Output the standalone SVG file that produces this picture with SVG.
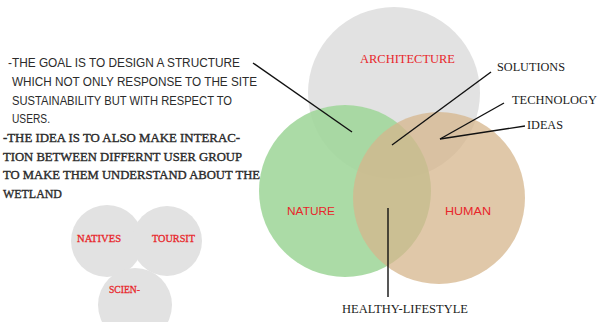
<svg xmlns="http://www.w3.org/2000/svg" width="598" height="322" viewBox="0 0 598 322">
  <style>
    .note { font-family: "Liberation Sans", Arial, sans-serif; font-size: 12px; fill: #2b2b2b; }
    .idea { font-family: "Liberation Serif", "Times New Roman", serif; font-size: 12px; fill: #2a2a2a; stroke: #2a2a2a; stroke-width: 0.35; }
    .red-serif { font-family: "Liberation Serif", "Times New Roman", serif; font-size: 12.5px; fill: #e8262b; }
    .red-sans { font-family: "Liberation Sans", Arial, sans-serif; font-size: 11.5px; fill: #e8262b; }
    .red-small { font-family: "Liberation Serif", "Times New Roman", serif; font-size: 10.5px; fill: #e8262b; stroke: #e8262b; stroke-width: 0.3; }
    .tag { font-family: "Liberation Serif", "Times New Roman", serif; font-size: 12px; fill: #1a1a1a; }
    .leader { stroke: #111; stroke-width: 1.4; fill: none; }
    .bubble { fill: #e2e2e2; }
  </style>

  <rect width="598" height="322" fill="#ffffff"/>

  <!-- design statement -->
  <g id="statement">
    <text class="note" x="8" y="67" textLength="232" lengthAdjust="spacingAndGlyphs">-THE GOAL IS TO DESIGN A STRUCTURE</text>
    <text class="note" x="12" y="86" textLength="245" lengthAdjust="spacingAndGlyphs">WHICH NOT ONLY RESPONSE TO THE SITE</text>
    <text class="note" x="12" y="105" textLength="220" lengthAdjust="spacingAndGlyphs">SUSTAINABILITY BUT WITH RESPECT TO</text>
    <text class="note" x="12" y="123" textLength="38" lengthAdjust="spacingAndGlyphs">USERS.</text>
  </g>
  <g id="idea">
    <text class="idea" x="3" y="142" textLength="237" lengthAdjust="spacingAndGlyphs">-THE IDEA IS TO ALSO MAKE INTERAC-</text>
    <text class="idea" x="3" y="161" textLength="239" lengthAdjust="spacingAndGlyphs">TION BETWEEN DIFFERNT USER GROUP</text>
    <text class="idea" x="3" y="179" textLength="257" lengthAdjust="spacingAndGlyphs">TO MAKE THEM UNDERSTAND ABOUT THE</text>
    <text class="idea" x="3" y="198" textLength="59" lengthAdjust="spacingAndGlyphs">WETLAND</text>
  </g>

  <!-- user groups -->
  <g id="natives">
    <circle class="bubble" cx="107" cy="241" r="36"/>
    <text class="red-small" x="77" y="242" textLength="44" lengthAdjust="spacingAndGlyphs">NATIVES</text>
  </g>
  <g id="tourist">
    <circle class="bubble" cx="167" cy="241" r="35"/>
    <text class="red-small" x="152" y="242" textLength="43" lengthAdjust="spacingAndGlyphs">TOURSIT</text>
  </g>
  <g id="scientists">
    <circle class="bubble" cx="135" cy="305" r="37"/>
    <text class="red-small" x="109" y="293" textLength="31" lengthAdjust="spacingAndGlyphs">SCIEN-</text>
  </g>

  <!-- main venn -->
  <g id="architecture">
    <circle cx="394" cy="93" r="86" fill="#e2e2e2"/>
    <text class="red-serif" x="360" y="63" textLength="95" lengthAdjust="spacingAndGlyphs">ARCHITECTURE</text>
  </g>
  <g id="nature">
    <circle cx="345" cy="191" r="86" fill="#a2d79c" fill-opacity="0.9"/>
    <text class="red-sans" x="287" y="215" textLength="48" lengthAdjust="spacingAndGlyphs">NATURE</text>
  </g>
  <g id="human">
    <circle cx="439" cy="198" r="86" fill="#d5b68c" fill-opacity="0.75"/>
    <text class="red-sans" x="445" y="215" textLength="46" lengthAdjust="spacingAndGlyphs">HUMAN</text>
  </g>

  <!-- leader lines -->
  <g id="connectors">
    <line class="leader" x1="253" y1="63" x2="352" y2="132"/>
    <line class="leader" x1="491" y1="72" x2="392" y2="145"/>
    <line class="leader" x1="504" y1="103" x2="440" y2="139"/>
    <line class="leader" x1="525" y1="126" x2="440" y2="139"/>
    <line class="leader" x1="388" y1="208" x2="388" y2="297"/>
  </g>

  <g id="labels">
    <text class="tag" x="497" y="71" textLength="68" lengthAdjust="spacingAndGlyphs">SOLUTIONS</text>
    <text class="tag" x="512" y="104" textLength="85" lengthAdjust="spacingAndGlyphs">TECHNOLOGY</text>
    <text class="tag" x="527" y="129" textLength="36" lengthAdjust="spacingAndGlyphs">IDEAS</text>
    <text class="tag" x="342" y="313" textLength="126" lengthAdjust="spacingAndGlyphs">HEALTHY-LIFESTYLE</text>
  </g>
</svg>
